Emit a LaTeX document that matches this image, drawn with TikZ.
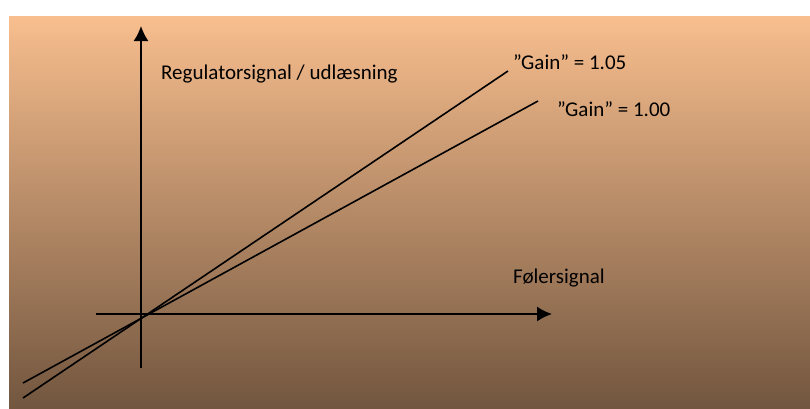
\documentclass[tikz,border=0pt]{standalone}
\usepackage{fontspec}
\setmainfont{Carlito}
\usetikzlibrary{arrows.meta}
\definecolor{peach}{RGB}{248,190,142}
\definecolor{bark}{RGB}{114,86,63}
\tikzset{
    axis/.style={line width=1.7pt, -{Latex[length=15pt,width=15pt]}},
    gainline/.style={line width=1.6pt},
    lbl/.style={anchor=base west, inner sep=0pt, font=\fontsize{21}{25}\selectfont}
}

\begin{document}
\begin{tikzpicture}[x=1pt,y=-1pt]
    \useasboundingbox (0,0) rectangle (810,408);
    \shade[top color=peach, bottom color=bark] (9,16) rectangle (810,408);
    % axes
    \coordinate (ybot) at (141,368);
    \coordinate (ytop) at (141,26);
    \coordinate (xleft) at (96,314);
    \coordinate (xright) at (552,314);
    \draw[axis] (ybot) -- (ytop);
    \draw[axis] (xleft) -- (xright);
    % gain lines
    \coordinate (a0) at (23,398);
    \coordinate (a1) at (508,71);
    \coordinate (b0) at (23,383);
    \coordinate (b1) at (538,101);
    \draw[gainline] (a0) -- (a1);
    \draw[gainline] (b0) -- (b1);
    % labels
    \node[lbl] (ylabel) at (161,79) {Regulatorsignal / udlæsning};
    \node[lbl] (xlabel) at (513,283) {Følersignal};
    \node[lbl] (gainhi) at (513,69) {”Gain” = 1.05};
    \node[lbl] (gainlo) at (557,116) {”Gain” = 1.00};
\end{tikzpicture}
\end{document}
